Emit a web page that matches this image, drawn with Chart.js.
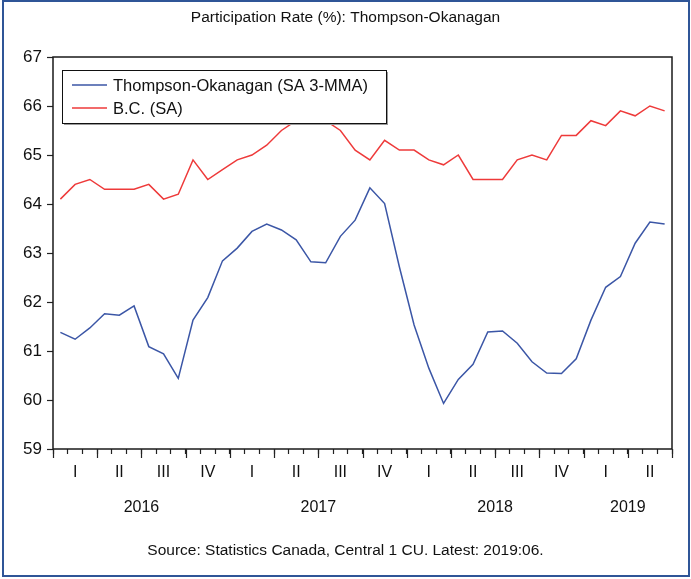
<!DOCTYPE html>
<html>
<head>
<meta charset="utf-8">
<title>Participation Rate (%): Thompson-Okanagan</title>
<script src="https://cdn.jsdelivr.net/npm/chart.js@4.4.1/dist/chart.umd.min.js"></script>
<style>
  body { margin: 0; background: #fff; }
  #wrap { position: relative; width: 691px; height: 579px; }
  #frame {
    position: absolute; left: 2px; top: 0; width: 688px; height: 577px;
    box-sizing: border-box; border: 2px solid #2f5597; pointer-events: none;
  }
</style>
</head>
<body>
<div id="wrap">
  <canvas id="chart"></canvas>
  <div id="frame"></div>
</div>
<script>
// ======================================================
//                     DATA
// ======================================================

const months = [
  "2016:01", "2016:02", "2016:03", "2016:04", "2016:05", "2016:06", "2016:07", "2016:08", "2016:09", "2016:10", "2016:11", "2016:12",
  "2017:01", "2017:02", "2017:03", "2017:04", "2017:05", "2017:06", "2017:07", "2017:08", "2017:09", "2017:10", "2017:11", "2017:12",
  "2018:01", "2018:02", "2018:03", "2018:04", "2018:05", "2018:06", "2018:07", "2018:08", "2018:09", "2018:10", "2018:11", "2018:12",
  "2019:01", "2019:02", "2019:03", "2019:04", "2019:05", "2019:06"
];

// Thompson-Okanagan (SA 3-MMA)
const thompsonOkanagan = [
  61.38, 61.24, 61.47, 61.76, 61.73, 61.92, 61.09, 60.94, 60.44, 61.63, 62.09, 62.84,
  63.10, 63.44, 63.59, 63.47, 63.27, 62.82, 62.80, 63.34, 63.67, 64.33, 64.01, 62.72,
  61.53, 60.65, 59.93, 60.42, 60.73, 61.39, 61.41, 61.16, 60.78, 60.55, 60.54, 60.84,
  61.63, 62.30, 62.52, 63.20, 63.63, 63.59
];

// B.C. (SA)
const bcRate = [
  64.1, 64.4, 64.5, 64.3, 64.3, 64.3, 64.4, 64.1, 64.2, 64.9, 64.5, 64.7,
  64.9, 65.0, 65.2, 65.5, 65.7, 65.9, 65.7, 65.5, 65.1, 64.9, 65.3, 65.1,
  65.1, 64.9, 64.8, 65.0, 64.5, 64.5, 64.5, 64.9, 65.0, 64.9, 65.4, 65.4,
  65.7, 65.6, 65.9, 65.8, 66.0, 65.9
];

const quarterLabels = ["I", "II", "III", "IV", "I", "II", "III", "IV", "I", "II", "III", "IV", "I", "II"];
const yearLabels = ["2016", "2017", "2018", "2019"];
const monthsPerYear = [12, 12, 12, 6];
const yMin = 59;
const yMax = 67;

const FONT = "'Liberation Sans', Arial, sans-serif";
const BLUE = "#3b56a6";
const RED = "#ee3a3a";

// ======================================================
//          DÉCOR : cadre, graduations, années, légende
// ======================================================

const decorPlugin = {
  id: "decor",
  afterDraw(chart) {
    const { ctx, chartArea: a, scales: { x } } = chart;
    ctx.save();

    // cadre du graphique
    ctx.strokeStyle = "#1a1a1a";
    ctx.lineWidth = 1.5;
    ctx.strokeRect(a.left, a.top, a.right - a.left, a.bottom - a.top);

    // graduations longues aux limites des trimestres
    ctx.lineWidth = 1.2;
    ctx.strokeStyle = "#222";
    for (let k = 0; k <= months.length; k += 3) {
      const px = Math.round(x.getPixelForValue(k - 0.5)) + 0.5;
      ctx.beginPath();
      ctx.moveTo(px, a.bottom);
      ctx.lineTo(px, a.bottom + 9);
      ctx.stroke();
    }

    // années
    ctx.fillStyle = "#111";
    ctx.font = "16px " + FONT;
    ctx.textAlign = "center";
    ctx.textBaseline = "middle";
    let start = 0;
    yearLabels.forEach((yr, i) => {
      const mid = start + monthsPerYear[i] / 2 - 0.5;
      ctx.fillText(yr, x.getPixelForValue(mid), a.bottom + 59);
      start += monthsPerYear[i];
    });

    // légende
    const lx = a.left + 9, ly = a.top + 13, lw = 324, lh = 53;
    ctx.fillStyle = "#9a9a9a";
    ctx.fillRect(lx + 2, ly + 2, lw, lh);
    ctx.fillStyle = "#fff";
    ctx.fillRect(lx, ly, lw, lh);
    ctx.strokeStyle = "#111";
    ctx.lineWidth = 1;
    ctx.strokeRect(lx + 0.5, ly + 0.5, lw, lh);

    ctx.font = "16.5px " + FONT;
    ctx.textAlign = "left";
    chart.data.datasets.forEach((ds, i) => {
      const yy = ly + 15 + i * 23;
      ctx.strokeStyle = ds.borderColor;
      ctx.lineWidth = 1.5;
      ctx.beginPath();
      ctx.moveTo(lx + 10, yy);
      ctx.lineTo(lx + 45, yy);
      ctx.stroke();
      ctx.fillStyle = "#111";
      ctx.fillText(ds.label, lx + 51, yy + 1);
    });

    ctx.restore();
  }
};

// ======================================================
//                    GRAPHIQUE
// ======================================================

function toPoints(values) {
  return values.map((v, i) => ({ x: i, y: v }));
}

new Chart(document.getElementById("chart"), {
  type: "line",
  data: {
    datasets: [
      {
        label: "Thompson-Okanagan (SA 3-MMA)",
        data: toPoints(thompsonOkanagan),
        borderColor: BLUE,
        borderWidth: 1.5,
        pointRadius: 0,
        tension: 0
      },
      {
        label: "B.C. (SA)",
        data: toPoints(bcRate),
        borderColor: RED,
        borderWidth: 1.5,
        pointRadius: 0,
        tension: 0
      }
    ]
  },
  options: {
    responsive: true,
    maintainAspectRatio: false,
    animation: false,
    layout: { padding: { left: 19, right: 19, top: 0, bottom: 0 } },
    plugins: {
      legend: { display: false },
      tooltip: { enabled: false },
      title: {
        display: true,
        text: "Participation Rate (%): Thompson-Okanagan",
        color: "#111",
        font: { family: FONT, size: 15.5, weight: "normal" },
        padding: { top: 8.5, bottom: 29.9 }
      },
      subtitle: {
        display: true,
        position: "bottom",
        text: "Source: Statistics Canada, Central 1 CU. Latest: 2019:06.",
        color: "#111",
        font: { family: FONT, size: 15.5 },
        padding: { top: 0, bottom: 19 }
      }
    },
    scales: {
      x: {
        type: "linear",
        min: -0.5,
        max: months.length - 0.5,
        afterBuildTicks(scale) {
          const ticks = [];
          for (let k = 0; k <= months.length; k++) ticks.push({ value: k - 0.5 });
          quarterLabels.forEach((q, j) => ticks.push({ value: 3 * j + 1 }));
          ticks.sort((p, q) => p.value - q.value);
          scale.ticks = ticks;
        },
        afterFit(scale) { scale.height = 92.4; },
        border: { display: false },
        grid: {
          drawOnChartArea: false,
          tickLength: 5,
          tickWidth: 1.2,
          tickColor: c => Number.isInteger(c.tick.value) ? "rgba(0,0,0,0)" : "#222"
        },
        ticks: {
          autoSkip: false,
          maxRotation: 0,
          minRotation: 0,
          padding: 9,
          color: "#111",
          font: { family: FONT, size: 16 },
          callback: v => Number.isInteger(v) ? quarterLabels[(v - 1) / 3] : ""
        }
      },
      y: {
        min: yMin,
        max: yMax,
        afterFit(scale) { scale.width = 34; },
        border: { display: false },
        grid: { drawOnChartArea: false, tickLength: 6, tickColor: "#222", tickWidth: 1.2 },
        ticks: {
          stepSize: 1,
          padding: 5,
          color: "#111",
          font: { family: FONT, size: 17 }
        }
      }
    }
  },
  plugins: [decorPlugin]
});
</script>
</body>
</html>
